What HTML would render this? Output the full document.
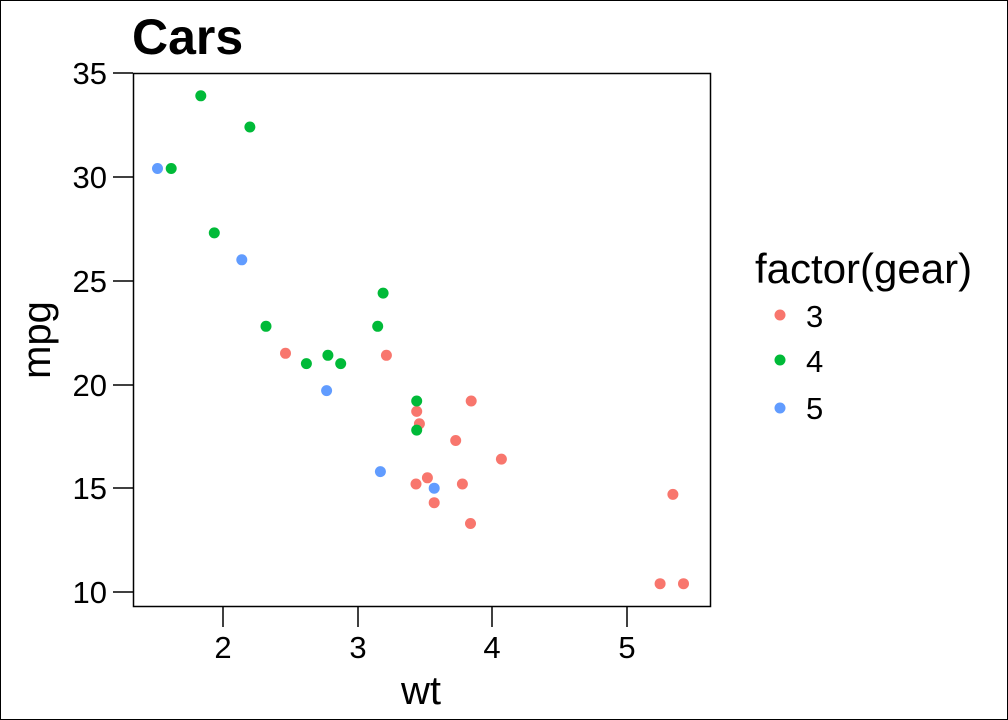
<!DOCTYPE html>
<html><head><meta charset="utf-8"><style>
html,body{margin:0;padding:0;background:#fff;}
svg{display:block;font-family:"Liberation Sans",sans-serif;}
</style></head><body>
<svg width="1008" height="720" viewBox="0 0 1008 720" xmlns="http://www.w3.org/2000/svg">
<rect x="0.5" y="0.5" width="1007" height="719" fill="#fff" stroke="#000" stroke-width="1"/>
<rect x="133.5" y="73.5" width="577" height="533" fill="#fff" stroke="#000" stroke-width="1.5"/>
<text x="132" y="54" font-size="50" font-weight="bold">Cars</text>
<g stroke="#000" stroke-width="1.5">
<line x1="113" x2="133" y1="73" y2="73"/><line x1="113" x2="133" y1="177" y2="177"/><line x1="113" x2="133" y1="281" y2="281"/><line x1="113" x2="133" y1="385" y2="385"/><line x1="113" x2="133" y1="488" y2="488"/><line x1="113" x2="133" y1="592" y2="592"/>
<line x1="223" x2="223" y1="607" y2="627"/><line x1="358" x2="358" y1="607" y2="627"/><line x1="492" x2="492" y1="607" y2="627"/><line x1="627" x2="627" y1="607" y2="627"/>
</g>
<g font-size="31" text-anchor="end">
<text x="107" y="84">35</text><text x="107" y="188">30</text><text x="107" y="292">25</text><text x="107" y="396">20</text><text x="107" y="499">15</text><text x="107" y="603">10</text>
</g>
<g font-size="31" text-anchor="middle">
<text x="223" y="658">2</text><text x="358" y="658">3</text><text x="492" y="658">4</text><text x="627" y="658">5</text>
</g>
<text x="421" y="704" font-size="40" text-anchor="middle">wt</text>
<text transform="translate(50,340) rotate(-90)" font-size="40" text-anchor="middle">mpg</text>
<g fill="#F8766D">
<circle cx="386.4" cy="355.3" r="5.5"/><circle cx="416.7" cy="411.4" r="5.5"/><circle cx="419.4" cy="423.8" r="5.5"/><circle cx="434.2" cy="502.7" r="5.5"/><circle cx="501.4" cy="459.1" r="5.5"/><circle cx="455.7" cy="440.5" r="5.5"/><circle cx="462.4" cy="484.0" r="5.5"/><circle cx="660.1" cy="583.7" r="5.5"/><circle cx="683.5" cy="583.7" r="5.5"/><circle cx="672.9" cy="494.4" r="5.5"/><circle cx="285.5" cy="353.3" r="5.5"/><circle cx="427.4" cy="477.8" r="5.5"/><circle cx="416.0" cy="484.0" r="5.5"/><circle cx="470.5" cy="523.5" r="5.5"/><circle cx="471.2" cy="401.0" r="5.5"/>
</g>
<g fill="#00BA38">
<circle cx="306.4" cy="363.6" r="5.5"/><circle cx="340.7" cy="363.6" r="5.5"/><circle cx="266.0" cy="326.3" r="5.5"/><circle cx="383.1" cy="293.1" r="5.5"/><circle cx="377.7" cy="326.3" r="5.5"/><circle cx="416.7" cy="401.0" r="5.5"/><circle cx="416.7" cy="430.1" r="5.5"/><circle cx="249.9" cy="127.0" r="5.5"/><circle cx="171.2" cy="168.5" r="5.5"/><circle cx="200.8" cy="95.8" r="5.5"/><circle cx="214.3" cy="232.9" r="5.5"/><circle cx="327.9" cy="355.3" r="5.5"/>
</g>
<g fill="#619CFF">
<circle cx="241.8" cy="259.8" r="5.5"/><circle cx="157.5" cy="168.5" r="5.5"/><circle cx="380.4" cy="471.6" r="5.5"/><circle cx="326.6" cy="390.6" r="5.5"/><circle cx="434.2" cy="488.2" r="5.5"/>
</g>
<text x="755" y="283" font-size="42">factor(gear)</text>
<circle cx="780" cy="315" r="5.5" fill="#F8766D"/><circle cx="780" cy="360" r="5.5" fill="#00BA38"/><circle cx="780" cy="408" r="5.5" fill="#619CFF"/>
<g font-size="31"><text x="806" y="327">3</text><text x="806" y="372">4</text><text x="806" y="419">5</text></g>
</svg>
</body></html>
